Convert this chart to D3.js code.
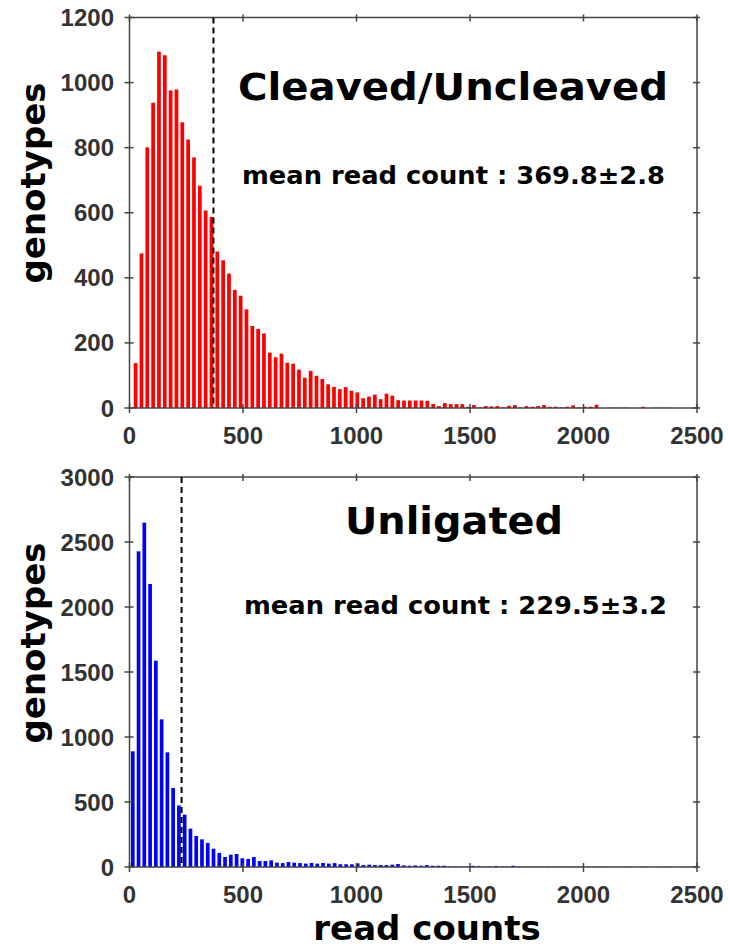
<!DOCTYPE html>
<html>
<head>
<meta charset="utf-8">
<script src="https://cdn.jsdelivr.net/npm/d3@7"></script>
<style>
  body { margin: 0; background: #fff; }
  .tick-label { font-family: 'Liberation Sans', Arial, sans-serif; font-weight: bold; font-size: 24px; fill: #333; }
  .big { font-family: 'DejaVu Sans', sans-serif; font-weight: bold; fill: #000; }
</style>
</head>
<body>
<svg></svg>
<script>
// histogram counts (100 bins each)
const cleavedCounts = [
  138, 475, 801, 938, 1095, 1084, 976, 979, 878, 825,
  770, 683, 607, 587, 481, 454, 413, 363, 345, 303,
  252, 243, 229, 170, 156, 167, 139, 136, 118, 93,
  114, 99, 89, 73, 65, 58, 64, 53, 48, 30,
  35, 41, 27, 44, 38, 24, 23, 23, 23, 23,
  22, 12, 6, 15, 12, 12, 12, 4, 9, 2,
  6, 5, 6, 2, 7, 9, 2, 6, 4, 6,
  9, 4, 4, 2, 4, 8, 2, 4, 4, 10,
  0, 1, 1, 1, 1, 0, 0, 4, 0, 1,
  1, 1, 0, 0, 0, 0, 1, 0, 0, 0
]
const unligatedCounts = [
  890, 2428, 2649, 2177, 1587, 1136, 882, 608, 474, 403,
  295, 238, 213, 185, 141, 108, 77, 95, 100, 67,
  62, 77, 46, 46, 51, 33, 30, 38, 33, 30,
  26, 31, 26, 31, 26, 30, 21, 21, 21, 28,
  15, 18, 15, 15, 15, 18, 23, 13, 10, 12,
  10, 15, 10, 10, 10, 5, 4, 4, 4, 9,
  8, 4, 4, 8, 4, 4, 10, 3, 3, 4,
  3, 3, 3, 3, 3, 3, 2, 3, 2, 2,
  2, 2, 2, 0, 2, 0, 2, 0, 0, 2,
  0, 2, 0, 2, 0, 0, 2, 0, 0, 0
]
// bin layout (first bin centre, bin width) in read counts
const cleavedBins = [27, 25.7]
const unligatedBins = [14.5, 25.4]

const xTicks = [0, 500, 1000, 1500, 2000, 2500]
const cleavedYTicks = [0, 200, 400, 600, 800, 1000, 1200]
const unligatedYTicks = [0, 500, 1000, 1500, 2000, 2500, 3000]

const means = [369.8, 229.5]
const meanLabels = ['mean read count : 369.8\u00b12.8', 'mean read count : 229.5\u00b13.2']
const titles = ['Cleaved/Uncleaved', 'Unligated']

let w = 729, h = 949

let svg = d3.select('svg')
  .attr('width', w)
  .attr('height', h)

let scX = d3.scaleLinear().domain([0, 2500]).range([129.5, 697])

const drawPanel = (opt) => {
  let scY = d3.scaleLinear().domain([0, opt.yMax]).range([opt.bottom, opt.top])
  let g = svg.append('g')
  let binW = opt.bins[1]
  let barW = (scX(binW) - scX(0)) * 0.64

  // bars
  g.append('g')
    .selectAll('rect')
    .data(opt.counts).enter().append('rect')
    .attr('x', (d, i) => scX(opt.bins[0] + i * binW) - barW / 2)
    .attr('width', barW)
    .attr('y', d => scY(d))
    .attr('height', d => opt.bottom - scY(d))
    .attr('fill', opt.color)

  // frame
  g.append('rect')
    .attr('x', scX(0)).attr('y', opt.top)
    .attr('width', scX(2500) - scX(0)).attr('height', opt.bottom - opt.top)
    .attr('fill', 'none').attr('stroke', '#444').attr('stroke-width', 1.5)

  // ticks crossing the frame on all four sides
  let tk = g.append('g').attr('stroke', '#444').attr('stroke-width', 1.5)
  xTicks.forEach(t => {
    tk.append('line').attr('x1', scX(t)).attr('x2', scX(t)).attr('y1', opt.bottom - 4).attr('y2', opt.bottom + 5)
    tk.append('line').attr('x1', scX(t)).attr('x2', scX(t)).attr('y1', opt.top - 3).attr('y2', opt.top + 4)
  })
  opt.yTicks.forEach(t => {
    tk.append('line').attr('x1', scX(0) - 5).attr('x2', scX(0) + 4).attr('y1', scY(t)).attr('y2', scY(t))
    tk.append('line').attr('x1', scX(2500) - 4).attr('x2', scX(2500) + 3).attr('y1', scY(t)).attr('y2', scY(t))
  })

  g.append('g').selectAll('text')
    .data(xTicks).enter().append('text')
    .attr('class', 'tick-label')
    .attr('x', d => scX(d))
    .attr('y', opt.bottom + 36)
    .attr('text-anchor', 'middle')
    .text(d => d)

  g.append('g').selectAll('text')
    .data(opt.yTicks).enter().append('text')
    .attr('class', 'tick-label')
    .attr('x', 114)
    .attr('y', d => scY(d) + 8.5)
    .attr('text-anchor', 'end')
    .text(d => d)

  // mean line
  g.append('line')
    .attr('x1', scX(opt.mean)).attr('x2', scX(opt.mean))
    .attr('y1', opt.top).attr('y2', opt.bottom)
    .attr('stroke', '#000').attr('stroke-width', 2)
    .attr('stroke-dasharray', '6,4')

  g.append('text')
    .attr('class', 'big')
    .attr('x', opt.titleX).attr('y', opt.titleY)
    .attr('font-size', opt.titleSize)
    .attr('textLength', opt.titleLen).attr('lengthAdjust', 'spacingAndGlyphs')
    .text(opt.title)

  g.append('text')
    .attr('class', 'big')
    .attr('x', opt.labelX).attr('y', opt.labelY)
    .attr('font-size', 24)
    .attr('textLength', 423).attr('lengthAdjust', 'spacingAndGlyphs')
    .text(opt.label)

  g.append('text')
    .attr('class', 'big')
    .attr('transform', `translate(45, ${opt.ylabY}) rotate(-90)`)
    .attr('text-anchor', 'middle')
    .attr('font-size', 34)
    .text('genotypes')
}

drawPanel({
  counts: cleavedCounts, bins: cleavedBins, color: '#ff0000',
  yMax: 1200, yTicks: cleavedYTicks, top: 17.5, bottom: 408,
  mean: means[0], title: titles[0], titleX: 238, titleY: 100, titleSize: 37, titleLen: 430,
  label: meanLabels[0], labelX: 242, labelY: 184, ylabY: 183
})

drawPanel({
  counts: unligatedCounts, bins: unligatedBins, color: '#0000ff',
  yMax: 3000, yTicks: unligatedYTicks, top: 477, bottom: 867,
  mean: means[1], title: titles[1], titleX: 345, titleY: 534, titleSize: 37, titleLen: 218,
  label: meanLabels[1], labelX: 244, labelY: 614, ylabY: 643
})

svg.append('text')
  .attr('class', 'big')
  .attr('x', 427).attr('y', 940)
  .attr('text-anchor', 'middle')
  .attr('font-size', 34)
  .text('read counts')
</script>
</body>
</html>
